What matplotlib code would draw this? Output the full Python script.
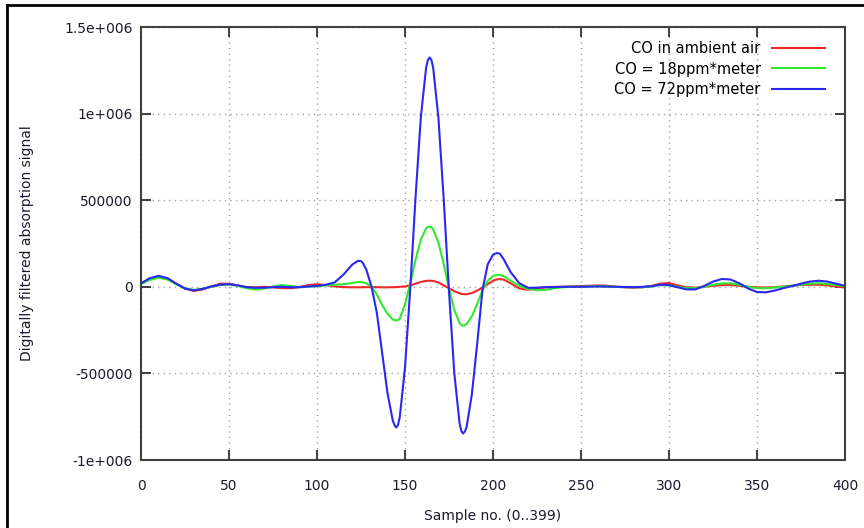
import numpy as np
import matplotlib
matplotlib.use("Agg")
import matplotlib.pyplot as plt
from matplotlib.lines import Line2D
from matplotlib.ticker import FixedLocator, FixedFormatter

# sample positions (0..399)
samples = [0, 5, 10, 15, 20, 25, 30, 35, 40, 45, 50, 55, 60, 65, 70, 75, 80, 85, 90, 95,
           100, 105, 110, 115, 120, 122, 123, 124, 125, 126, 128, 131, 134, 137, 140, 143,
           144, 145, 146, 147, 150, 153, 156, 159, 162, 163, 164, 165, 166, 169, 172, 175,
           178, 181, 182, 183, 184, 185, 188, 191, 194, 197, 200, 201, 202, 203, 204, 206,
           210, 215, 220, 225, 230, 235, 240, 245, 250, 255, 260, 265, 270, 275, 280, 285,
           290, 295, 300, 305, 310, 315, 320, 325, 330, 335, 340, 345, 350, 355, 360, 365,
           370, 375, 380, 385, 390, 395, 399]

# values in thousands
co_ambient = [18, 45, 58, 48, 18, -10, -24, -16, 2, 18, 18, 8, -2, -3, 0, -3, -8, -8, -2, 10,
              15, 10, 2, -2, -3, -3, -3, -3, -3, -2, -2, -2, -2, -3, -3, -2,
              -2, -2, -1, 0, 2, 8, 18, 28, 34, 35, 35, 35, 34, 25, 8, -8,
              -25, -38, -41, -42, -43, -43, -36, -22, -5, 15, 35, 39, 42, 44, 44, 42,
              20, -10, -17, -10, -3, 0, 0, 2, 4, 6, 8, 6, 0, -3, -5, -3,
              5, 18, 22, 8, -3, -5, 0, 6, 10, 10, 6, 0, -3, -4, -2, 2,
              6, 10, 12, 12, 8, 2, -3]

co_18ppm = [15, 40, 52, 42, 15, -8, -18, -12, 0, 10, 14, 5, -8, -16, -10, 2, 10, 5, -2, 0,
            3, 8, 12, 15, 22, 26, 27, 28, 28, 26, 20, 0, -45, -105, -155, -188,
            -192, -194, -192, -185, -102, 20, 156, 272, 338, 345, 347, 344, 331, 255, 131, -9,
            -133, -210, -221, -225, -222, -215, -170, -100, -20, 35, 62, 66, 68, 69, 68, 62,
            35, 5, -12, -20, -18, -8, -2, 0, 0, 2, 3, 2, 0, -2, -3, -2,
            2, 10, 8, 0, -8, -8, 0, 12, 20, 20, 12, 0, -8, -8, -4, 0,
            6, 12, 18, 20, 16, 10, 5]

co_72ppm = [20, 50, 63, 50, 18, -10, -21, -12, 2, 12, 15, 8, -2, -6, -5, -2, 0, -3, -2, 2,
            5, 12, 25, 70, 128, 142, 148, 150, 148, 138, 100, 0, -150, -380, -610, -770,
            -798, -812, -798, -755, -467, -6, 518, 979, 1266, 1309, 1324, 1310, 1266, 974, 505, -27,
            -496, -788, -832, -847, -836, -810, -620, -330, -20, 130, 185, 190, 194, 194, 190, 160,
            85, 20, -6, -5, -2, -2, 0, 0, 0, 1, 2, 1, 0, -1, -2, 0,
            3, 12, 10, -3, -15, -15, 5, 30, 45, 42, 20, -10, -30, -32, -22, -8,
            5, 18, 30, 35, 30, 18, 8]

series_labels = ["CO in ambient air", "CO = 18ppm*meter", "CO = 72ppm*meter"]
series_colors = ["#f02828", "#30e830", "#2828f0"]

x_ticks = [0, 50, 100, 150, 200, 250, 300, 350, 400]
y_ticks = [-1e6, -5e5, 0, 5e5, 1e6, 1.5e6]
y_tick_labels = ["-1e+006", "-500000", "0", "500000", "1e+006", "1.5e+006"]

plt.rcParams["font.family"] = ["DejaVu Sans"]

fig = plt.figure(figsize=(8.64, 5.28), dpi=100)
ax = fig.add_axes([141 / 864, 1 - 460 / 528, (845 - 141) / 864, (460 - 27) / 528])

x = np.array(samples)
for vals, lab, col in zip([co_ambient, co_18ppm, co_72ppm], series_labels, series_colors):
    ax.plot(x, np.array(vals) * 1000.0, color=col, lw=1.5, label=lab,
            solid_joinstyle="round")

ax.set_xlim(0, 400)
ax.set_ylim(-1e6, 1.5e6)
ax.xaxis.set_major_locator(FixedLocator(x_ticks))
ax.yaxis.set_major_locator(FixedLocator(y_ticks))
ax.yaxis.set_major_formatter(FixedFormatter(y_tick_labels))

ax.grid(True, color="#a0a0a0", linestyle=(0, (1, 3)), lw=1.0)
ax.tick_params(direction="in", length=7, width=1.3, color="#303030",
               top=True, right=True, labelsize=10, labelcolor="#1a1a2e", pad=6)
ax.tick_params(axis="x", pad=14)
for sp in ax.spines.values():
    sp.set_color("#404040")
    sp.set_linewidth(1.5)

ax.set_xlabel("Sample no. (0..399)", fontsize=10, color="#1a1a2e")
ax.set_ylabel("Digitally filtered absorption signal", fontsize=10, color="#1a1a2e")
ax.xaxis.set_label_coords(0.5, -0.113)
ax.yaxis.set_label_coords(-0.152, 0.5)

ax.legend(loc="upper right", frameon=False, markerfirst=False, fontsize=10.5,
          handlelength=3.6, handletextpad=0.8, labelspacing=0.35,
          bbox_to_anchor=(0.99, 0.997))

# outer frame of the screenshot
fig.add_artist(Line2D([7 / 864, 7 / 864], [0, 1 - 5 / 528], transform=fig.transFigure,
                      color="black", lw=2))
fig.add_artist(Line2D([7 / 864, 1], [1 - 5 / 528, 1 - 5 / 528], transform=fig.transFigure,
                      color="black", lw=2))

fig.savefig("out.png", dpi=100)
